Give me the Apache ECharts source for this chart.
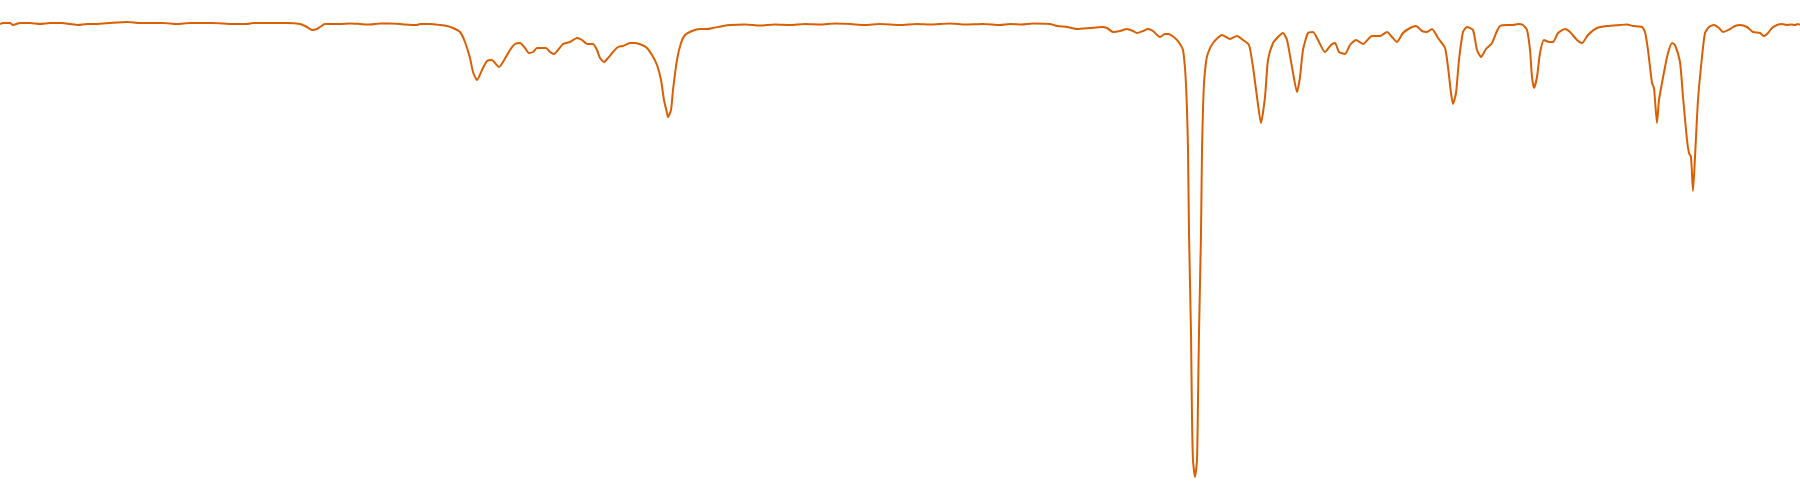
<!DOCTYPE html>
<html>
<head>
<meta charset="utf-8">
<script src="https://cdn.jsdelivr.net/npm/echarts@6/dist/echarts.min.js"></script>
<style>html,body{margin:0;padding:0;background:#fff;}#chart{width:1800px;height:500px;}</style>
</head>
<body>
<div id="chart"></div>
<script>
// Spectrum: position along the x scale and transmittance (%)
const positions = [0,3,10,13,20,30,40,50,62,70,78,87,97,110,127,140,150,163,177,190,200,213,233,247,253,267,273,287,300,307,312,317,320,325,340,350,360,370,380,390,400,405,417,420,430,440,447,453,460,465,470,473,477,482,487,492,495,499,503,510,515,520,525,529,533,537,542,546,550,554,558,563,570,577,582,587,593,597,600,604,608,613,618,623,630,635,642,647,652,657,661,664,667,668,671,673,677,681,685,692,700,707,713,723,730,745,760,775,790,805,820,835,850,865,880,900,917,930,950,965,983,1000,1010,1022,1033,1050,1057,1067,1077,1090,1102,1107,1113,1120,1127,1133,1137,1143,1148,1153,1160,1165,1168,1175,1180,1183,1185,1186,1187,1188,1189,1191,1192,1193,1195,1197,1198,1199,1201,1202,1203,1204,1206,1208,1213,1222,1230,1237,1243,1249,1253,1257,1261,1265,1268,1273,1278,1283,1287,1292,1297,1300,1303,1308,1313,1318,1325,1331,1335,1339,1345,1350,1356,1363,1372,1380,1387,1392,1397,1403,1410,1416,1422,1427,1432,1438,1445,1448,1451,1453,1456,1459,1463,1467,1473,1477,1481,1486,1492,1497,1500,1507,1513,1518,1523,1527,1530,1532,1534,1537,1540,1544,1549,1553,1558,1565,1570,1577,1582,1588,1597,1607,1620,1627,1633,1642,1645,1648,1652,1654,1655,1657,1659,1662,1665,1668,1672,1675,1680,1683,1687,1689,1691,1693,1695,1698,1702,1705,1709,1714,1719,1723,1730,1735,1740,1747,1753,1760,1764,1768,1772,1777,1782,1787,1791,1795,1798,1800];
const transmittance = [95.2,95.4,95.4,95.0,95.4,95.4,95.2,95.4,95.4,95.2,95.0,95.2,95.2,95.4,95.6,95.4,95.4,95.4,95.2,95.4,95.4,95.4,95.2,95.2,95.4,95.4,95.4,95.4,95.2,94.6,94.0,94.2,94.6,95.2,95.2,95.3,95.2,95.1,95.3,95.3,95.2,95.1,95.0,95.2,95.2,95.0,94.8,94.4,93.6,91.6,88.4,85.6,84.0,86.0,87.8,88.0,87.4,86.6,87.6,90.0,91.2,91.4,90.4,89.4,89.6,90.4,90.4,90.4,89.6,89.2,90.0,91.2,91.6,92.4,92.0,91.2,91.2,90.0,88.4,87.6,88.4,89.6,90.6,90.8,91.4,91.4,91.0,90.4,89.0,87.0,84.0,80.0,77.4,76.6,78.0,82.0,88.0,91.4,93.0,93.8,94.2,94.2,94.4,94.8,95.0,95.1,94.9,95.1,95.0,95.2,95.1,95.3,95.2,95.0,95.2,95.0,95.2,95.1,95.3,95.1,95.2,95.0,95.2,95.1,95.3,95.2,94.8,94.6,94.2,94.4,94.6,94.4,93.6,93.8,94.2,93.8,93.4,93.8,94.2,93.8,92.6,93.2,93.2,92.4,91.2,90.0,86.4,83.0,78.0,70.0,53.4,33.4,16.6,8.0,4.6,8.0,20.0,33.4,53.4,70.0,78.0,83.4,87.6,89.4,91.4,93.0,92.2,92.8,92.0,91.0,86.6,80.6,75.4,80.6,88.0,91.4,92.6,93.4,92.0,86.6,81.6,84.6,90.0,93.4,93.6,92.0,89.6,91.0,91.4,89.6,89.2,91.0,92.0,91.2,92.8,92.8,93.6,92.6,91.6,93.4,94.4,94.8,93.8,93.6,94.2,92.4,90.4,86.6,81.4,79.2,81.4,88.0,93.6,94.6,94.0,90.0,88.6,90.2,91.4,93.8,94.8,95.0,95.0,95.2,95.0,94.0,90.0,84.6,82.4,84.6,89.4,92.0,91.6,91.6,93.4,94.2,93.6,92.0,91.4,93.0,94.4,94.8,95.0,95.1,94.8,94.6,93.6,90.0,83.4,82.4,80.0,75.4,80.0,83.4,86.6,89.4,91.4,91.0,87.6,80.6,72.0,69.4,68.6,61.8,68.6,80.0,88.6,93.4,94.6,95.0,94.4,93.6,94.2,94.8,95.0,94.6,93.6,93.4,92.8,93.4,94.4,95.0,95.2,95.0,95.1,95.0,95.2,95.0];
const xRange = [0, 1800];
const yRange = [0, 100];

const chart = echarts.init(document.getElementById('chart'), null, {renderer: 'canvas'});
chart.setOption({
  animation: false,
  backgroundColor: '#ffffff',
  grid: {left: 0, right: 0, top: 0, bottom: 0},
  xAxis: {type: 'value', min: xRange[0], max: xRange[1], show: false},
  yAxis: {type: 'value', min: yRange[0], max: yRange[1], show: false},
  series: [{
    type: 'line',
    data: positions.map((p, i) => [p, transmittance[i]]),
    showSymbol: false,
    smooth: 0.2,
    clip: false,
    lineStyle: {color: '#d95f02', width: 2}
  }]
});
</script>
</body>
</html>
